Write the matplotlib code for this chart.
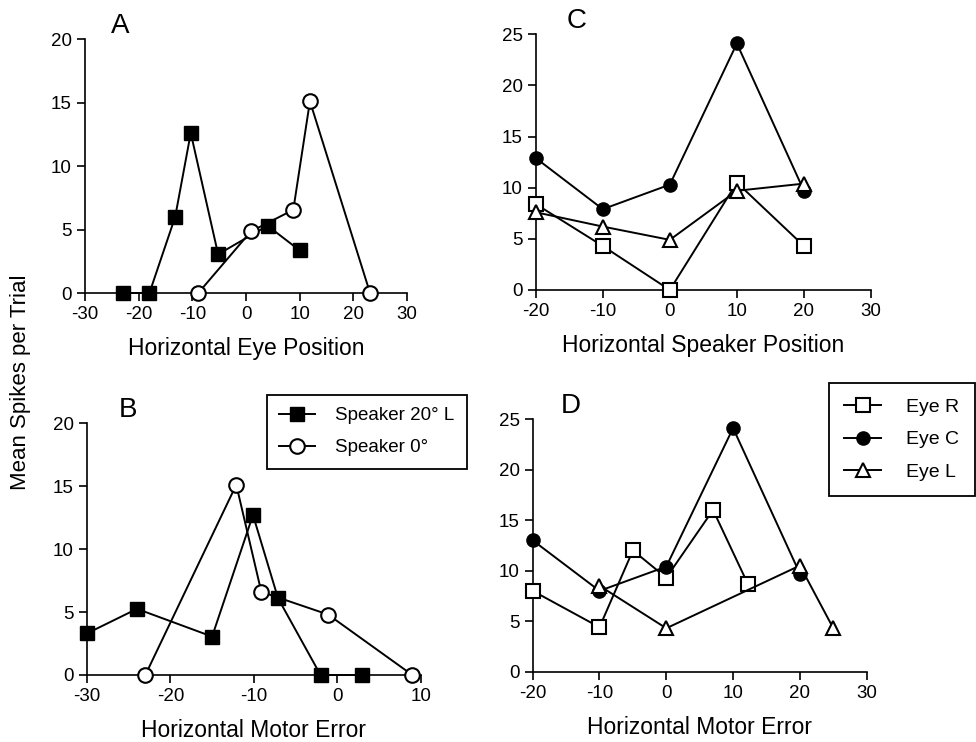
import matplotlib
matplotlib.use("Agg")
import matplotlib.pyplot as plt

plt.rcParams['font.family'] = ['Liberation Sans', 'DejaVu Sans']
plt.rcParams['axes.unicode_minus'] = False

# panel A - horizontal eye position
a_sq_x = [-23, -18, -13.2, -10.3, -5.2, 4, 10]
a_sq_y = [0, 0, 6.0, 12.6, 3.05, 5.3, 3.35]
a_ci_x = [-8.9, 0.9, 8.8, 11.9, 23.1]
a_ci_y = [0, 4.85, 6.55, 15.1, 0]

# panel B - horizontal motor error
b_sq_x = [-30, -24, -15, -10.1, -7.1, -2, 3]
b_sq_y = [3.3, 5.25, 3.05, 12.7, 6.1, 0, 0]
b_ci_x = [-23, -12.1, -9.1, -1.1, 9]
b_ci_y = [0, 15.1, 6.6, 4.8, 0]

# panel C - horizontal speaker position
c_x = [-20, -10, 0, 10, 20]
c_eyeR = [8.4, 4.3, 0, 10.5, 4.3]
c_eyeC = [12.9, 7.9, 10.3, 24.1, 9.7]
c_eyeL = [7.6, 6.2, 4.9, 9.7, 10.4]

# panel D - horizontal motor error
d_R_x = [-20, -10, -5, 0, 7, 12.2]
d_R_y = [8.0, 4.4, 12.0, 9.3, 16.0, 8.7]
d_C_x = [-20, -10, 0, 10, 20]
d_C_y = [13.0, 8.0, 10.4, 24.1, 9.7]
d_L_x = [-10, 0, 20, 25]
d_L_y = [8.5, 4.3, 10.5, 4.3]

fig = plt.figure(figsize=(9.76, 7.42), dpi=100)
axA = fig.add_axes([0.0871, 0.6051, 0.330, 0.3423])
axB = fig.add_axes([0.0891, 0.0903, 0.3419, 0.3396])
axC = fig.add_axes([0.5489, 0.6092, 0.3435, 0.3446])
axD = fig.add_axes([0.5458, 0.0947, 0.3422, 0.3406])

lw = 1.4
sq = dict(marker='s', color='black', markerfacecolor='black', markersize=10, lw=lw, clip_on=False, zorder=3)
sq_open = dict(marker='s', color='black', markerfacecolor='white', markersize=10.5, mew=1.5, lw=lw, clip_on=False, zorder=3)
ci_open = dict(marker='o', color='black', markerfacecolor='white', markersize=10.5, mew=1.5, lw=lw, clip_on=False, zorder=4)
ci_fill = dict(marker='o', color='black', markerfacecolor='black', markersize=9.5, lw=lw, clip_on=False, zorder=3)
tri = dict(marker='^', color='black', markerfacecolor='white', markersize=10.5, mew=1.5, lw=lw, clip_on=False, zorder=4)


def style(ax, xlim, xticks, ylim, yticks, xlabel, letter, lx, ly):
    ax.set_xlim(xlim)
    ax.set_ylim(ylim)
    ax.set_xticks(xticks)
    ax.set_yticks(yticks)
    for s in ['top', 'right']:
        ax.spines[s].set_visible(False)
    for s in ['left', 'bottom']:
        ax.spines[s].set_linewidth(1.2)
    ax.tick_params(direction='out', length=6, width=1.2, labelsize=13.5)
    ax.set_xlabel(xlabel, fontsize=16.5, labelpad=10)
    ax.text(lx, ly, letter, transform=ax.transAxes, fontsize=20, ha='left', va='bottom')


axA.plot(a_sq_x, a_sq_y, **sq)
axA.plot(a_ci_x, a_ci_y, **ci_open)
style(axA, (-30, 30), range(-30, 31, 10), (0, 20), range(0, 21, 5),
      'Horizontal Eye Position', 'A', 0.08, 1.0)

hB1, = axB.plot(b_sq_x, b_sq_y, label='Speaker 20° L', **sq)
hB2, = axB.plot(b_ci_x, b_ci_y, label='Speaker 0°', **ci_open)
style(axB, (-30, 10), range(-30, 11, 10), (0, 20), range(0, 21, 5),
      'Horizontal Motor Error', 'B', 0.095, 1.0)

axC.plot(c_x, c_eyeC, **ci_fill)
axC.plot(c_x, c_eyeR, **sq_open)
axC.plot(c_x, c_eyeL, **tri)
style(axC, (-20, 30), range(-20, 31, 10), (0, 25), range(0, 26, 5),
      'Horizontal Speaker Position', 'C', 0.093, 1.0)

hR, = axD.plot(d_R_x, d_R_y, label='Eye R', **sq_open)
hC, = axD.plot(d_C_x, d_C_y, label='Eye C', **ci_fill)
hL, = axD.plot(d_L_x, d_L_y, label='Eye L', **tri)
style(axD, (-20, 30), range(-20, 31, 10), (0, 25), range(0, 26, 5),
      'Horizontal Motor Error', 'D', 0.083, 1.0)

legB = fig.legend(handles=[hB1, hB2], loc='upper left', bbox_to_anchor=(0.2736, 0.4677),
                  bbox_transform=fig.transFigure, fontsize=13.5, fancybox=False,
                  edgecolor='black', framealpha=1, handlelength=1.9, borderpad=0.65,
                  labelspacing=0.8, handletextpad=1.1, borderaxespad=0)
legB.get_frame().set_linewidth(1.3)

legD = fig.legend(handles=[hR, hC, hL], loc='upper left', bbox_to_anchor=(0.849, 0.4838),
                  bbox_transform=fig.transFigure, fontsize=14, fancybox=False,
                  edgecolor='black', framealpha=1, handlelength=1.9, borderpad=0.8,
                  labelspacing=0.75, handletextpad=1.3, borderaxespad=0)
legD.get_frame().set_linewidth(1.3)

fig.text(0.0215, 0.485, 'Mean Spikes per Trial', rotation=90, fontsize=16,
         ha='center', va='center')

fig.savefig('out.png', dpi=100)
